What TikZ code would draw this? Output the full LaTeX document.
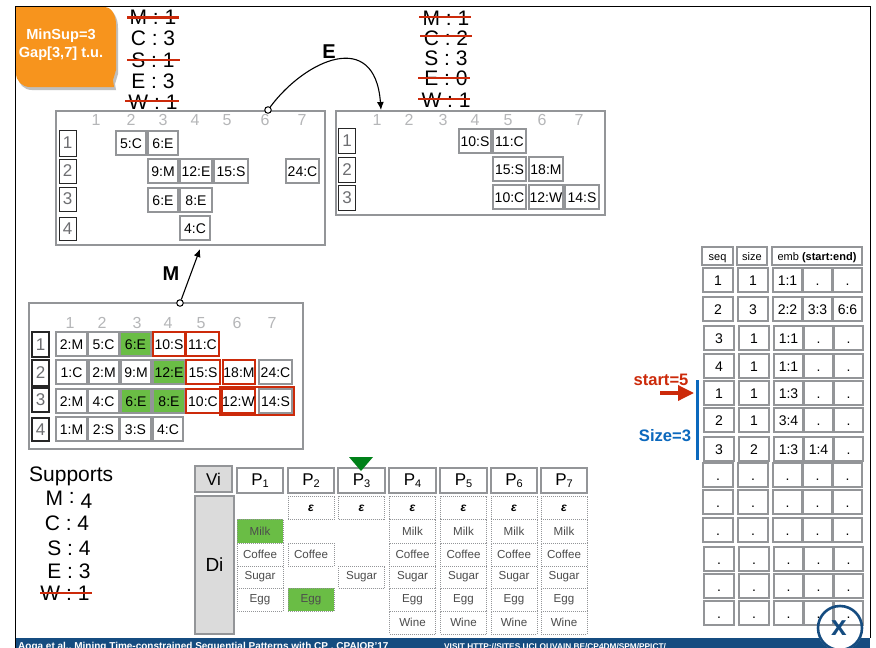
\documentclass[tikz,border=0pt]{standalone}
\usepackage{fontspec}
\setmainfont{Liberation Sans}
\usetikzlibrary{arrows.meta,positioning,fit}
\definecolor{framegray}{HTML}{939598}
\definecolor{headgray}{HTML}{B5B6B8}
\definecolor{seqgray}{HTML}{6D6E71}
\definecolor{paneblue}{HTML}{154C80}
\definecolor{strikered}{HTML}{CC2A0A}
\definecolor{markblue}{HTML}{0B68BD}
\definecolor{matchgreen}{HTML}{6ABD45}
\definecolor{calloutorange}{HTML}{F7941D}
\newcommand{\fs}[1]{\fontsize{#1}{#1}\selectfont}
\newcommand{\boxat}[6][tcell]{%
  \node[#1, minimum width=#4pt-#3pt, minimum height=#6pt-#5pt] (#2) at ({(#3+#4)/2},{(#5+#6)/2}) {};}
\tikzset{
  tcell/.style={
    rectangle,
    draw=framegray,
    fill=white,
    line width=1.4pt,
    inner sep=0pt,
    outer sep=0pt,
    text=black,
    font=\fs{14},
    text height=10pt,
    text depth=0pt
  },
  plain/.style={},
  matched/.style={fill=matchgreen},
  inred/.style={draw=strikered},
  seqbox/.style={
    rectangle,
    draw=black!85,
    fill=white,
    line width=0.9pt,
    inner sep=0pt,
    outer sep=0pt,
    minimum width=17pt,
    minimum height=24pt,
    text=seqgray,
    font=\fs{17}
  },
  pane/.style={
    rectangle,
    draw=framegray,
    fill=white,
    line width=1.3pt,
    inner sep=0pt,
    outer sep=0pt
  },
  colnum/.style={
    text=headgray,
    inner sep=0pt,
    font=\fs{16}
  },
  count/.style={
    inner sep=0pt,
    font=\fs{21}
  },
  strike/.style={
    draw=strikered,
    line width=2.4pt
  },
  redbox/.style={
    rectangle,
    draw=strikered,
    line width=1.4pt,
    inner sep=0pt,
    outer sep=0pt
  },
  opendot/.style={
    circle,
    draw=black,
    fill=white,
    line width=1pt,
    inner sep=0pt,
    minimum size=6.5pt
  },
  flow/.style={
    -{Latex[length=8pt,width=7pt]},
    line width=1.1pt,
    draw=black
  },
  dotcell/.style={
    rectangle,
    draw=framegray,
    fill=white,
    densely dotted,
    line width=1pt,
    inner sep=0pt,
    outer sep=0pt,
    minimum width=46pt,
    text=black!70,
    font=\fs{11.6}
  },
  pbox/.style={
    rectangle,
    draw=framegray,
    fill=white,
    line width=1.4pt,
    inner sep=0pt,
    outer sep=0pt,
    minimum height=25pt,
    font=\fs{17}
  },
  graybox/.style={
    pbox,
    fill=black!14
  }
}
\begin{document}
\begin{tikzpicture}[x=1pt,y=-1pt]
  \useasboundingbox (0,0) rectangle (876,648);
  \fill[white] (0,0) rectangle (876,648);

  % bottom band and logo backing
  \fill[paneblue] (15,638) rectangle (870,648);
  \fill[white] (840,628) circle (23);
  \begin{scope}
    \clip (0,0) rectangle (876,648);
    \node[text=white,inner sep=0pt,anchor=west,font=\fs{10}\bfseries] (credit) at (18,646.5) {Aoga et al., Mining Time-constrained Sequential Patterns with CP , CPAIOR'17};
    \node[text=white,inner sep=0pt,anchor=west,font=\fs{8.3}\bfseries] (visit) at (444,646.5) {VISIT HTTP://SITES.UCLOUVAIN.BE/CP4DM/SPM/PPICT/};
  \end{scope}
  \draw[black,line width=1pt] (15,648) -- (15,6) -- (870,6) -- (870,638);

  % callout
  \fill[black!25] (18,10) -- (106,10) .. controls (114,10) and (118,18) .. (118,28) -- (118,74) -- (115,84) -- (116,90) -- (32,90) .. controls (24,90) and (18,84) .. (18,76) -- cycle;
  \fill[calloutorange] (16,7) -- (104,7) .. controls (112,7) and (116,15) .. (116,25) -- (116,70) -- (113,80) -- (114,87) -- (30,87) .. controls (22,87) and (16,81) .. (16,73) -- cycle;
  \node[text=white,inner sep=0pt,align=center,font=\fs{14.6}\bfseries] (params) at (61,45) {MinSup=3\\[3pt]Gap[3,7] t.u.};

  % counts above the panes
  \foreach \name/\ypos/\txt in {m/17/M : 1,c/38/C : 3,s/60/S : 1,e/81/E : 3,w/102.5/W : 1}
    \node[count] (a\name) at (153,\ypos) {\txt};
  \foreach \name/\ypos/\txt in {m/18/M : 1,c/38/C : 2,s/58/S : 3,e/78/E : 0,w/100/W : 1}
    \node[count] (b\name) at (446,\ypos) {\txt};
  \draw[strike] (127,17.5) -- (179,17.5);
  \draw[strike] (127,60) -- (180,60);
  \draw[strike] (125,101) -- (179,101);
  \draw[strike] (419,17) -- (471,17);
  \draw[strike] (420,36) -- (472,36);
  \draw[strike] (418,78) -- (470,78);
  \draw[strike] (418,99) -- (470,99);

  % projected on M
  \boxat[pane]{panea}{56}{325}{111}{245}
  \foreach \xpos [count=\i] in {96,131,163,195,227,265,302}
    \node[colnum] (ah\i) at (\xpos,120) {\i};
  \foreach \i/\ya/\yb in {1/130/156,2/159/183,3/187/211,4/217/240}
    \node[seqbox, minimum height=\yb pt-\ya pt] (as\i) at (67.5,{(\ya+\yb)/2}) {\i};
  \foreach \name/\xa/\xb/\ya/\yb/\txt in {
    a1/116/146/131/155/5:C, a2/148/178/131/155/6:E,
    a3/148/178/159/183/9:M, a4/180/212/159/183/12:E, a5/214/248/159/183/15:S, a6/286/319/159/183/24:C,
    a7/148/178/188/212/6:E, a8/180/212/188/212/8:E,
    a9/180/210/216/240/4:C}
    \node[tcell, minimum width=\xb pt-\xa pt, minimum height=\yb pt-\ya pt] (\name) at ({(\xa+\xb)/2},{(\ya+\yb)/2}) {\txt};

  % projected on ME
  \boxat[pane]{paneb}{336}{605}{111}{215}
  \foreach \xpos [count=\i] in {377,409,443,475,508,542,579}
    \node[colnum] (bh\i) at (\xpos,120) {\i};
  \foreach \i/\ya/\yb in {1/128/153,2/157/182,3/185/210}
    \node[seqbox, minimum height=\yb pt-\ya pt] (bs\i) at (347,{(\ya+\yb)/2}) {\i};
  \foreach \name/\xa/\xb/\ya/\yb/\txt in {
    b1/459/491/129/153/10:S, b2/493/526/129/153/11:C,
    b3/493/526/157/181/15:S, b4/529/563/157/181/18:M,
    b5/493/526/185/209/10:C, b6/529/563/185/209/12:W, b7/565/599/185/209/14:S}
    \node[tcell, minimum width=\xb pt-\xa pt, minimum height=\yb pt-\ya pt] (\name) at ({(\xa+\xb)/2},{(\ya+\yb)/2}) {\txt};

  % database
  \boxat[pane]{panec}{29}{303}{303}{449}
  \foreach \xpos [count=\i] in {70,102,137,168,201,237,272}
    \node[colnum] (ch\i) at (\xpos,323) {\i};
  \foreach \i/\ya/\yb in {1/332/357,2/360/386,3/388/412,4/418/441}
    \node[seqbox, line width=1.2pt, minimum height=\yb pt-\ya pt] (cs\i) at (40.5,{(\ya+\yb)/2}) {\i};
  \foreach \name/\xa/\xb/\ya/\txt/\how in {
    c1/56/87/332/2:M/plain, c2/88/119/332/5:C/plain, c3/120/151/332/6:E/matched, c4/153/185/332/10:S/inred, c5/186/219/332/11:C/inred,
    c6/56/87/360/1:C/plain, c7/89/119/360/2:M/plain, c8/121/151/360/9:M/plain, c9/153/185/360/12:E/matched, c10/186/220/360/15:S/inred, c11/223/255/360/18:M/inred, c12/259/292/360/24:C/plain,
    c13/56/87/389/2:M/plain, c14/88/119/389/4:C/plain, c15/121/151/389/6:E/matched, c16/153/185/389/8:E/matched, c17/186/220/389/10:C/inred, c18/222/255/389/12:W/inred, c19/259/292/389/14:S/plain,
    c20/56/87/417/1:M/plain, c21/88/119/417/2:S/plain, c22/120/151/417/3:S/plain, c23/153/183/417/4:C/plain}
    \node[tcell, \how, minimum width=\xb pt-\xa pt, minimum height=24pt] (\name) at ({(\xa+\xb)/2},\ya+12) {\txt};
  \node[redbox, fit=(c18)(c19), inner sep=2pt] (redtail) {};

  % extensions
  \node[opendot] (edot) at (268,110) {};
  \coordinate (etip) at (381,110);
  \draw[flow] (edot) .. controls (305,60) and (375,28) .. (etip);
  \node[font=\fs{20}\bfseries,inner sep=0pt] (elabel) at (329,52) {E};
  \node[opendot] (mdot) at (180,303) {};
  \coordinate (mtip) at (200,249);
  \draw[flow] (mdot) -- (mtip);
  \node[font=\fs{20}\bfseries,inner sep=0pt] (mlabel) at (171,274) {M};

  % supports
  \node[count,anchor=west] (supports) at (29,476) {Supports};
  \node[count] (sm) at (69,500) {M \raisebox{2pt}{:} \raisebox{-3pt}{4}};
  \node[count] (sc) at (67,523) {C : 4};
  \node[count] (ss) at (69,548) {S : 4};
  \node[count] (se) at (69,571) {E : 3};
  \node[count] (sw) at (65,593) {W : 1};
  \draw[strike] (40,593) -- (92,593);

  % item positions
  \node[graybox, minimum width=37pt, minimum height=26pt] (vi) at (213.5,479) {Vi};
  \node[graybox, minimum width=39pt, minimum height=138pt, font=\fs{19}] (di) at (214.5,565) {Di};
  \foreach \i/\xa/\xb in {1/237/283,2/288/334,3/338/385,4/389/436,5/440/487,6/491/537,7/541/587}
    \node[pbox, minimum width=\xb pt-\xa pt] (p\i) at ({(\xa+\xb)/2},480.5) {P\raisebox{-2.5pt}{\fs{11}\i}};
  \fill[green!45!black!90!cyan] (349,457) -- (373,457) -- (361,471) -- cycle;
  \foreach \i/\xpos/\how in {1/260/matched,4/412.5/plain,5/463.5/plain,6/514/plain,7/564/plain}
    \node[dotcell, \how, minimum height=24pt] (milk\i) at (\xpos,531) {Milk};
  \foreach \i/\xpos in {1/260,2/311,4/412.5,5/463.5,6/514,7/564}
    \node[dotcell, minimum height=23pt] (coffee\i) at (\xpos,554.5) {Coffee};
  \foreach \i/\xpos in {1/260,3/361.5,4/412.5,5/463.5,6/514,7/564}
    \node[dotcell, minimum height=22pt] (sugar\i) at (\xpos,577) {Sugar};
  \foreach \i/\xpos/\how in {1/260/plain,2/311/matched,4/412.5/plain,5/463.5/plain,6/514/plain,7/564/plain}
    \node[dotcell, \how, minimum height=23pt] (egg\i) at (\xpos,599.5) {Egg};
  \foreach \i/\xpos in {4/412.5,5/463.5,6/514,7/564}
    \node[dotcell, minimum height=23pt] (wine\i) at (\xpos,622.5) {Wine};
  \foreach \i/\xpos in {2/311,3/361.5,4/412.5,5/463.5,6/514,7/564}
    \node[dotcell, minimum height=23pt, text=black, font=\fs{12}\bfseries\itshape] (eps\i) at (\xpos,508) {ε};

  % embedding table
  \node[tcell, font=\fs{11}, text height=8pt, minimum width=31pt, minimum height=18pt] (hseq) at (717.5,256) {seq};
  \node[tcell, font=\fs{11}, text height=8pt, minimum width=30pt, minimum height=18pt] (hsize) at (752,256) {size};
  \node[tcell, font=\fs{11}, text height=8pt, minimum width=90pt, minimum height=18pt] (hemb) at (817,256) {emb \textbf{(start:end)}};
  \foreach \r/\dx/\ypos/\vs/\vz/\va/\vb/\vc in {
    1/0/280/1/1/1:1/./.,
    2/0/309/2/3/2:2/3:3/6:6,
    3/1/338/3/1/1:1/./.,
    4/1/366/4/1/1:1/./.,
    5/1/393/1/1/1:3/./.,
    6/1/420/2/1/3:4/./.,
    7/1/449/3/2/1:3/1:4/.,
    8/0/475/./././.,
    9/0/502/./././.,
    10/0/530/./././.,
    11/1/559/./././.,
    12/1/586/./././.,
    13/1/613/./././.}{
    \node[tcell, minimum width=30pt, minimum height=24pt] (r\r s) at (718+\dx,\ypos) {\vs};
    \node[tcell, minimum width=30pt, minimum height=24pt] (r\r z) at (753+\dx,\ypos) {\vz};
    \node[tcell, minimum width=29pt, minimum height=24pt] (r\r a) at (787.5+\dx,\ypos) {\va};
    \node[tcell, minimum width=29pt, minimum height=24pt] (r\r b) at (817.5+\dx,\ypos) {\vb};
    \node[tcell, minimum width=29pt, minimum height=24pt] (r\r c) at (847.5+\dx,\ypos) {\vc};
  }
  \draw[paneblue,line width=2.6pt] (840,628) circle (22);
  \node[text=paneblue,inner sep=0pt,font=\fs{28}\bfseries] (logo) at (839,628) {x};

  % window markers
  \node[text=strikered,inner sep=0pt,font=\fs{16.6}\bfseries] (start) at (661,380) {start=5};
  \node[text=markblue,inner sep=0pt,font=\fs{16.6}\bfseries] (window) at (665,436) {Size=3};
  \coordinate (startfrom) at (660,393);
  \draw[strikered,line width=3.4pt,-{Triangle[length=16pt,width=15pt]},shorten >=10pt] (startfrom) -- (r5s.west);
  \draw[markblue,line width=3.6pt] (697.5,380) -- (697.5,460);
\end{tikzpicture}
\end{document}
